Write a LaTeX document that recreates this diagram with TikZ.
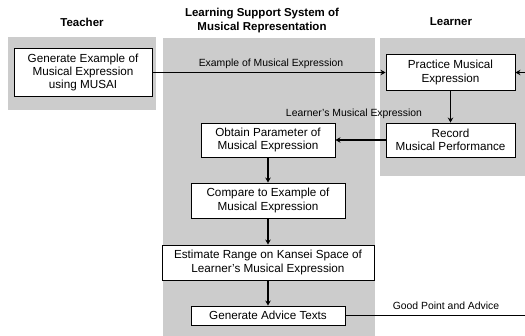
\documentclass[tikz,border=0pt]{standalone}
\usepackage{fontspec}
\setmainfont{Liberation Sans}
\usetikzlibrary{arrows.meta}
\definecolor{panel}{RGB}{204,204,204}
\begin{document}
\begin{tikzpicture}[x=1pt,y=-1pt,
  boxfont/.style={font=\fontsize{11.7}{13.3}\selectfont},
  proc/.style={draw=black,line width=0.9pt,fill=white,align=center,inner sep=0pt,boxfont},
  lbl/.style={font=\fontsize{10.4}{12}\selectfont,inner sep=0pt},
  ttl/.style={font=\fontsize{11.5}{14}\selectfont\bfseries,align=center,inner sep=0pt},
  flow/.style={line width=1.1pt,-{Stealth[length=5pt,width=5.5pt]}},
  plain/.style={line width=1.1pt}]
\useasboundingbox (0,0) rectangle (525,336);
% panels
\fill[panel] (8,37) rectangle (156,110);
\fill[panel] (163,38) rectangle (375,336);
\fill[panel] (380,38) rectangle (525,176);
% titles
\node[ttl] (tteacher) at (82,22) {Teacher};
\node[ttl] (tsystem) at (262,21) {Learning Support System of\\Musical Representation};
\node[ttl] (tlearner) at (451,22) {Learner};
% boxes
\node[proc,minimum width=138pt,minimum height=48pt] (teacher) at (83,72.5) {Generate Example of\\Musical Expression\\using MUSAI};
\node[proc,minimum width=129pt,minimum height=36pt] (practice) at (450.5,72.5) {Practice Musical\\Expression};
\node[proc,minimum width=129pt,minimum height=34pt] (record) at (450.5,140) {Record\\Musical Performance};
\node[proc,minimum width=134pt,minimum height=34pt] (obtain) at (268,140) {Obtain Parameter of\\Musical Expression};
\node[proc,minimum width=154pt,minimum height=35pt] (compare) at (268,200.5) {Compare to Example of\\Musical Expression};
\node[proc,minimum width=212pt,minimum height=35pt] (estimate) at (268,262.5) {Estimate Range on Kansei Space of\\Learner's Musical Expression};
\node[proc,minimum width=154pt,minimum height=19pt] (advice) at (268,315.5) {Generate Advice Texts};
% free ends
\coordinate (rin) at (525,72.5);
\coordinate (rout) at (525,315.5);
% connectors
\draw[flow] (teacher.east) -- (practice.west);
\draw[flow] (rin) -- (practice.east);
\draw[flow] (practice.south) -- (record.north);
\draw[flow] (record.west) -- (obtain.east);
\draw[flow] (obtain.south) -- (compare.north);
\draw[flow] (compare.south) -- (estimate.north);
\draw[flow] (estimate.south) -- (advice.north);
\draw[plain] (advice.east) -- (rout);
% labels
\node[lbl] (l1) at (271,64) {Example of Musical Expression};
\node[lbl] (l2) at (354,114) {Learner's Musical Expression};
\node[lbl] (l3) at (446,306) {Good Point and Advice};
\end{tikzpicture}
\end{document}
